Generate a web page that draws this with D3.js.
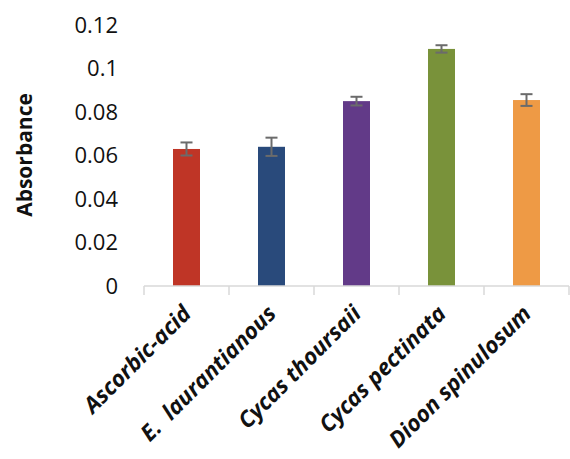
<!DOCTYPE html>
<html><head><meta charset="utf-8">
<script src="https://cdn.jsdelivr.net/npm/d3@7"></script>
<style>body{margin:0;background:#fff}svg{display:block}</style>
</head><body>
<svg id="c" width="570" height="459"></svg>
<script>
const categories = ["Ascorbic-acid", "E.  laurantianous", "Cycas thoursaii", "Cycas pectinata", "Dioon spinulosum"];
const values = [0.063, 0.064, 0.085, 0.109, 0.0855];
const errors = [0.003, 0.0042, 0.002, 0.0017, 0.0027];
const colors = ["#BF3526", "#294A7B", "#623A88", "#79923A", "#EE9A45"];
const yTicks = [0, 0.02, 0.04, 0.06, 0.08, 0.1, 0.12];

(function(){
const svg = d3.select("#c");
const mLeft = 144, mRight = 569, mTop = 25, mBottom = 286;
const x = d3.scaleBand().domain(categories).range([mLeft, mRight]).paddingInner(0).paddingOuter(0);
const y = d3.scaleLinear().domain([0, 0.12]).range([mBottom, mTop]);
const font = "'Open Sans', 'Liberation Sans', sans-serif";
const barW = 27;

svg.append("g").selectAll("text").data(yTicks).join("text")
  .attr("x", 118).attr("y", d => y(d)).attr("dy", "0.35em")
  .attr("text-anchor", "end").attr("font-family", font).attr("font-size", 22).attr("fill", "#111")
  .text(d => d3.format("")(d));

svg.append("g").selectAll("rect").data(categories).join("rect")
  .attr("x", d => x(d) + x.bandwidth()/2 - barW/2)
  .attr("width", barW)
  .attr("y", (d,i) => y(values[i]))
  .attr("height", (d,i) => y(0) - y(values[i]))
  .attr("fill", (d,i) => colors[i]);

const xa = svg.append("g").attr("transform", `translate(0,${mBottom})`);
xa.append("line").attr("x1", mLeft).attr("x2", mRight).attr("stroke", "#d9d9d9").attr("stroke-width", 1.5);
xa.selectAll("line.t").data(d3.range(categories.length + 1)).join("line").attr("class","t")
  .attr("x1", i => mLeft + i * x.bandwidth()).attr("x2", i => mLeft + i * x.bandwidth())
  .attr("y1", 0).attr("y2", 9).attr("stroke", "#d9d9d9").attr("stroke-width", 1.5);

const eb = svg.append("g").attr("stroke", "#6b6b6b").attr("stroke-width", 2);
categories.forEach((c, i) => {
  const cx = x(c) + x.bandwidth()/2;
  const y1 = y(values[i] + errors[i]), y2 = y(values[i] - errors[i]);
  eb.append("line").attr("x1", cx).attr("x2", cx).attr("y1", y1).attr("y2", y2);
  eb.append("line").attr("x1", cx-6).attr("x2", cx+6).attr("y1", y1).attr("y2", y1);
  eb.append("line").attr("x1", cx-6).attr("x2", cx+6).attr("y1", y2).attr("y2", y2);
});

svg.append("g").selectAll("text").data(categories).join("text")
  .attr("transform", d => `translate(${x(d) + x.bandwidth()/2 + 6},${mBottom + 29}) rotate(-45)`)
  .attr("text-anchor", "end").attr("font-family", font).attr("font-size", 22.5)
  .attr("font-weight", "bold").attr("font-style", "italic").attr("fill", "#111")
  .style("white-space", "pre")
  .text(d => d);

svg.append("text").attr("transform", "translate(32,155) rotate(-90)")
  .attr("text-anchor", "middle").attr("font-family", font).attr("font-size", 21)
  .attr("font-weight", "bold").attr("fill", "#111").text("Absorbance");
})();
</script>
</body></html>
